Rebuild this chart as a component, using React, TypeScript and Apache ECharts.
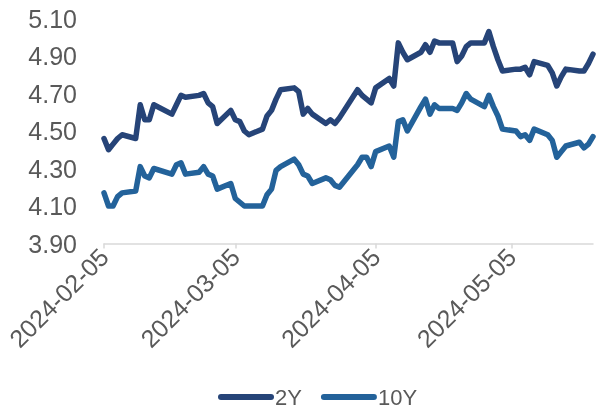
import React, { useEffect, useRef } from 'react';
import * as echarts from 'echarts';

const tradeDates = [
  '2024-02-05','2024-02-06','2024-02-07','2024-02-08','2024-02-09','2024-02-12','2024-02-13','2024-02-14','2024-02-15','2024-02-16',
  '2024-02-20','2024-02-21','2024-02-22','2024-02-23','2024-02-26','2024-02-27','2024-02-28','2024-02-29',
  '2024-03-01','2024-03-04','2024-03-05','2024-03-06','2024-03-07','2024-03-08','2024-03-11','2024-03-12','2024-03-13','2024-03-14',
  '2024-03-15','2024-03-18','2024-03-19','2024-03-20','2024-03-21','2024-03-22','2024-03-25','2024-03-26','2024-03-27','2024-03-28',
  '2024-04-01','2024-04-02','2024-04-03','2024-04-04','2024-04-05','2024-04-08','2024-04-09','2024-04-10','2024-04-11','2024-04-12',
  '2024-04-15','2024-04-16','2024-04-17','2024-04-18','2024-04-19','2024-04-22','2024-04-23','2024-04-24','2024-04-25','2024-04-26',
  '2024-04-29','2024-04-30',
  '2024-05-01','2024-05-02','2024-05-03','2024-05-06','2024-05-07','2024-05-08','2024-05-09','2024-05-10','2024-05-13','2024-05-14',
  '2024-05-15','2024-05-16','2024-05-17','2024-05-20','2024-05-21','2024-05-22','2024-05-23',
];

const y2 = [
  4.46, 4.40, 4.43, 4.46, 4.48, 4.46, 4.64, 4.56, 4.56, 4.64,
  4.59, 4.64, 4.69, 4.68, 4.69, 4.70, 4.65, 4.63,
  4.54, 4.61, 4.56, 4.55, 4.50, 4.48, 4.51, 4.58, 4.61, 4.67,
  4.72, 4.73, 4.71, 4.59, 4.62, 4.59, 4.54, 4.56, 4.54, 4.57,
  4.72, 4.69, 4.67, 4.65, 4.73, 4.78, 4.74, 4.97, 4.92, 4.88,
  4.92, 4.96, 4.92, 4.98, 4.97, 4.97, 4.87, 4.90, 4.95, 4.97,
  4.97, 5.03,
  4.95, 4.88, 4.82, 4.83, 4.83, 4.84, 4.80, 4.87, 4.85, 4.81,
  4.74, 4.79, 4.83, 4.82, 4.82, 4.86, 4.91,
];

const y10 = [
  4.17, 4.10, 4.10, 4.15, 4.17, 4.18, 4.31, 4.26, 4.25, 4.30,
  4.27, 4.32, 4.33, 4.27, 4.28, 4.31, 4.27, 4.26,
  4.19, 4.22, 4.14, 4.12, 4.10, 4.10, 4.10, 4.16, 4.19, 4.29,
  4.31, 4.35, 4.32, 4.27, 4.26, 4.22, 4.25, 4.24, 4.21, 4.20,
  4.32, 4.36, 4.36, 4.31, 4.39, 4.42, 4.36, 4.55, 4.56, 4.50,
  4.63, 4.67, 4.59, 4.64, 4.62, 4.62, 4.61, 4.65, 4.70, 4.67,
  4.63, 4.69,
  4.63, 4.58, 4.51, 4.50, 4.47, 4.48, 4.45, 4.51, 4.48, 4.45,
  4.36, 4.39, 4.42, 4.44, 4.41, 4.43, 4.47,
];

const seriesNames = ['2Y', '10Y'];
const colors = ['#264478', '#23629A'];
const labelDays = ['2024-02-05', '2024-03-05', '2024-04-05', '2024-05-05'];

function calendarDays(from: string, to: string): string[] {
  const out: string[] = [];
  const d = new Date(from + 'T00:00:00Z');
  const end = new Date(to + 'T00:00:00Z');
  while (d.getTime() <= end.getTime()) {
    out.push(d.toISOString().slice(0, 10));
    d.setUTCDate(d.getUTCDate() + 1);
  }
  return out;
}

const FONT = '"Liberation Sans", Arial, sans-serif';

export default function App() {
  const ref = useRef<HTMLDivElement>(null);
  useEffect(() => {
    const chart = echarts.init(ref.current!, null, { renderer: 'svg' });
    const days = calendarDays(tradeDates[0], tradeDates[tradeDates.length - 1]);
    const idx = new Map(tradeDates.map((d, i) => [d, i] as [string, number]));
    const pick = (arr: number[]) => days.map((d) => (idx.has(d) ? arr[idx.get(d)!] : null));
    const showAt = (_i: number, v: string) => labelDays.includes(v);
    chart.setOption({
      animation: false,
      textStyle: { fontFamily: FONT },
      grid: { left: 104, right: 5, top: 18.5, bottom: 168.5, containLabel: false },
      legend: {
        top: 385,
        left: 218,
        padding: 0,
        itemWidth: 56,
        itemHeight: 6,
        itemGap: 19,
        icon: 'path://M3,0 L53,0 A3,3 0 0 1 53,6 L3,6 A3,3 0 0 1 3,0 Z',
        textStyle: { fontSize: 22, lineHeight: 24, color: '#595959', fontFamily: FONT, padding: [0, 0, 0, -4] },
        data: seriesNames,
      },
      xAxis: {
        type: 'category',
        boundaryGap: false,
        data: days,
        axisLine: { lineStyle: { color: '#D9D9D9', width: 1.5 } },
        axisTick: { show: true, interval: showAt, length: 5, lineStyle: { color: '#D9D9D9', width: 1.5 } },
        axisLabel: {
          interval: showAt,
          rotate: 45,
          margin: 9,
          fontSize: 25,
          color: '#595959',
          fontFamily: FONT,
        },
        splitLine: { show: false },
      },
      yAxis: {
        type: 'value',
        min: 3.9,
        max: 5.1,
        interval: 0.1,
        axisLine: { show: false },
        axisTick: { show: false },
        splitLine: { show: false },
        axisLabel: {
          margin: 27,
          fontSize: 25,
          color: '#595959',
          fontFamily: FONT,
          formatter: (v: number) => (Math.round(v * 10) % 2 === 1 ? v.toFixed(2) : ''),
        },
      },
      series: [
        {
          name: seriesNames[0],
          type: 'line',
          data: pick(y2),
          connectNulls: true,
          showSymbol: false,
          symbol: 'none',
          color: colors[0],
          lineStyle: { width: 5.5, color: colors[0], cap: 'round', join: 'round' },
        },
        {
          name: seriesNames[1],
          type: 'line',
          data: pick(y10),
          connectNulls: true,
          showSymbol: false,
          symbol: 'none',
          color: colors[1],
          lineStyle: { width: 5.5, color: colors[1], cap: 'round', join: 'round' },
        },
      ],
    });
    return () => chart.dispose();
  }, []);
  return <div ref={ref} style={{ position: 'fixed', left: 0, top: 0, width: 598, height: 412 }} />;
}
